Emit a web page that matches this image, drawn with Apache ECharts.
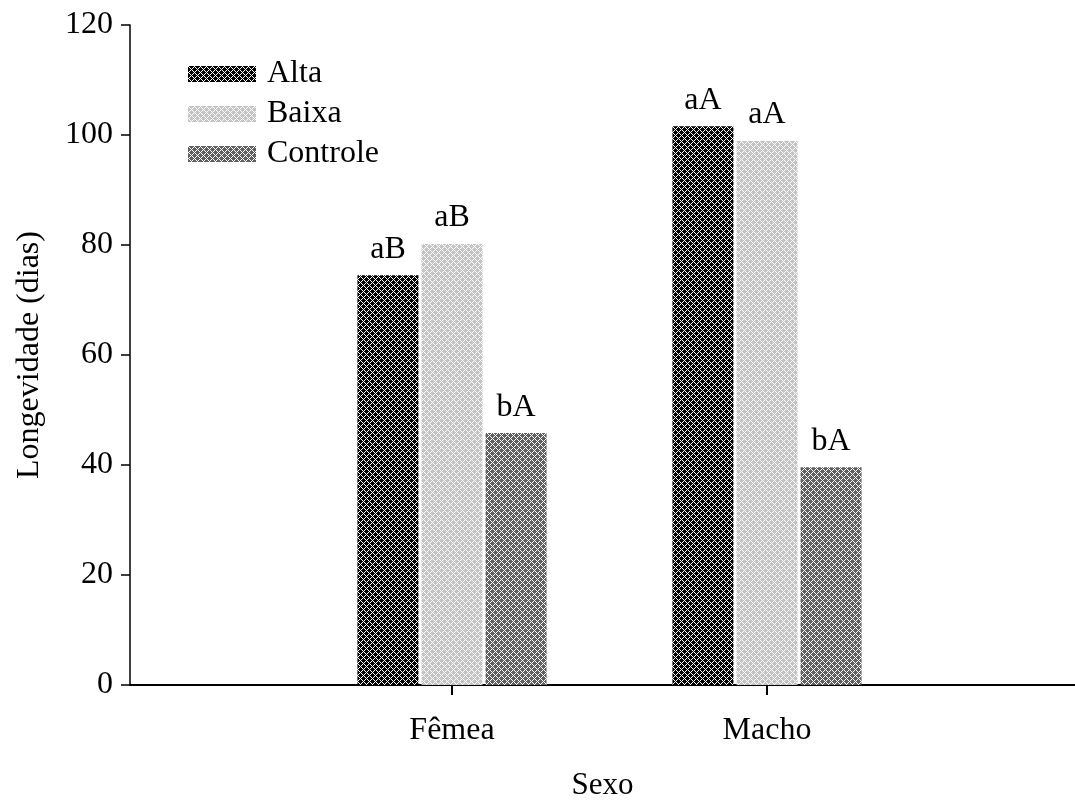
<!DOCTYPE html>
<html>
<head>
<meta charset="utf-8">
<script src="https://cdn.jsdelivr.net/npm/echarts@6/dist/echarts.min.js"></script>
<style>
  html, body { margin: 0; padding: 0; background: #fff; }
  #chart { width: 1075px; height: 801px; }
</style>
</head>
<body>
<div id="chart"></div>
<script>
// Longevity (days) by sex for each treatment
const categories = ['Fêmea', 'Macho'];
const seriesNames = ['Alta', 'Baixa', 'Controle'];
const alta = [74.5, 101.6];
const baixa = [80.2, 98.9];
const controle = [45.8, 39.6];
const altaLetters = ['aB', 'aA'];
const baixaLetters = ['aB', 'aA'];
const controleLetters = ['bA', 'bA'];
const yTicks = [0, 20, 40, 60, 80, 100, 120];

const FONT = '"Liberation Serif", "DejaVu Serif", serif';
const FS = 32;

// Cross-hatched fill: solid base with a crisp white diagonal lattice
function hatch(rgb) {
  const s = 6;
  const c = document.createElement('canvas');
  c.width = s; c.height = s;
  const g = c.getContext('2d');
  const img = g.createImageData(s, s);
  for (let y = 0; y < s; y++) {
    for (let x = 0; x < s; x++) {
      const white = ((x + y) % s === 0) || (((x - y) % s + s) % s === 0);
      const i = (y * s + x) * 4;
      const v = white ? [255, 255, 255] : rgb;
      img.data[i] = v[0]; img.data[i + 1] = v[1]; img.data[i + 2] = v[2]; img.data[i + 3] = 255;
    }
  }
  g.putImageData(img, 0, 0);
  return { image: c, repeat: 'repeat' };
}

const fills = [hatch([0, 0, 0]), hatch([196, 196, 196]), hatch([96, 96, 96])];

function makeSeries(name, values, letters, fill) {
  return {
    name: name,
    type: 'bar',
    xAxisIndex: 1,
    yAxisIndex: 1,
    barWidth: 61,
    barGap: '5%',
    data: values.map((v, i) => ({ value: v, label: { formatter: letters[i] } })),
    itemStyle: { color: fill },
    label: {
      show: true,
      position: 'top',
      distance: 10,
      color: '#000',
      fontFamily: FONT,
      fontSize: FS
    }
  };
}

const chart = echarts.init(document.getElementById('chart'), null, { renderer: 'canvas' });
chart.setOption({
  animation: false,
  backgroundColor: '#ffffff',
  legend: {
    orient: 'vertical',
    left: 183,
    top: 53,
    itemWidth: 68,
    itemHeight: 16,
    itemGap: 8,
    icon: 'rect',
    data: seriesNames,
    textStyle: { fontFamily: FONT, fontSize: FS, lineHeight: 30, color: '#000', padding: [0, 0, 0, 6] }
  },
  grid: [
    { left: 130, right: 0, top: 25, bottom: 116, outerBoundsMode: 'none' },
    { left: 294.5, width: 630, top: 25, bottom: 116, outerBoundsMode: 'none' }
  ],
  xAxis: [
    {
      gridIndex: 0,
      type: 'value',
      min: 0,
      max: 1,
      name: 'Sexo',
      nameLocation: 'middle',
      nameGap: 85,
      nameTextStyle: { fontFamily: FONT, fontSize: 31, color: '#000' },
      axisLine: { show: true, lineStyle: { color: '#000', width: 2 } },
      axisTick: { show: false },
      axisLabel: { show: false },
      splitLine: { show: false }
    },
    {
      gridIndex: 1,
      type: 'category',
      data: categories,
      axisLine: { show: false },
      axisTick: { show: true, alignWithLabel: true, length: 10, lineStyle: { color: '#000', width: 2 } },
      axisLabel: { fontFamily: FONT, fontSize: FS, color: '#000', margin: 30 },
      splitLine: { show: false }
    }
  ],
  yAxis: [
    {
      gridIndex: 0,
      type: 'value',
      min: yTicks[0],
      max: yTicks[yTicks.length - 1],
      interval: 20,
      name: 'Longevidade (dias)',
      nameLocation: 'middle',
      nameGap: 84,
      nameTextStyle: { fontFamily: FONT, fontSize: FS, color: '#000' },
      axisLine: { show: true, lineStyle: { color: '#000', width: 1.5 } },
      axisTick: { show: true, length: 9, lineStyle: { color: '#000', width: 1.5 } },
      axisLabel: { fontFamily: FONT, fontSize: FS, color: '#000', margin: 17 },
      splitLine: { show: false }
    },
    {
      gridIndex: 1,
      type: 'value',
      min: yTicks[0],
      max: yTicks[yTicks.length - 1],
      interval: 20,
      show: false
    }
  ],
  series: [
    makeSeries(seriesNames[0], alta, altaLetters, fills[0]),
    makeSeries(seriesNames[1], baixa, baixaLetters, fills[1]),
    makeSeries(seriesNames[2], controle, controleLetters, fills[2])
  ]
});
</script>
</body>
</html>
